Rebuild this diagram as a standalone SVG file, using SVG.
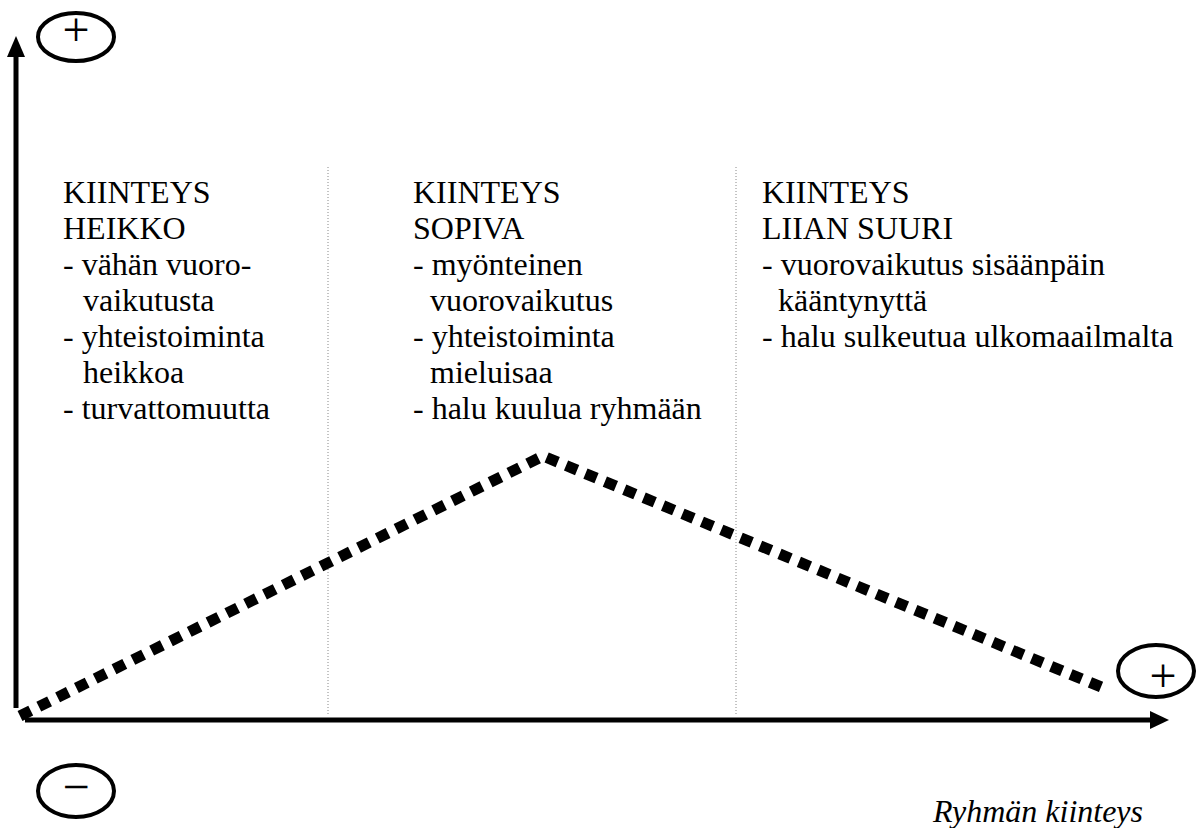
<svg xmlns="http://www.w3.org/2000/svg" width="1200" height="828" viewBox="0 0 1200 828">
<style>
text{font-family:"Liberation Serif","DejaVu Serif",serif}
.t{font-size:32px;fill:#000}
.i{font-style:italic}
.sym{font-size:48px;fill:#000;text-anchor:middle}
.ax{stroke:#000;stroke-width:5;fill:none}
.ell{stroke:#000;stroke-width:4;fill:none}
.sep{stroke:#888;stroke-width:1;stroke-dasharray:1 2;fill:none}
.dot{stroke:#000;stroke-width:11;stroke-dasharray:12 9;fill:none}
</style>
<rect width="1200" height="828" fill="#fff"/>
<g id="connectors">
  <line class="sep" x1="328" y1="167" x2="328" y2="716"/>
  <line class="sep" x1="736" y1="167" x2="736" y2="716"/>
  <line class="ax" x1="16" y1="708" x2="16" y2="54"/>
  <polygon points="16,36 7,57 25,57" fill="#000"/>
  <line class="ax" x1="25" y1="720" x2="1152" y2="720"/>
  <polygon points="1169,720 1150,711 1150,729" fill="#000"/>
  <polyline class="dot" points="20,716 543,456 1106,689"/>
</g>
<g id="plus-top">
  <ellipse class="ell" cx="76" cy="37" rx="38" ry="24"/>
  <text class="sym" x="76" y="46">+</text>
</g>
<g id="minus-bottom">
  <ellipse class="ell" cx="76" cy="791" rx="38" ry="26"/>
  <text class="sym" x="76" y="803">−</text>
</g>
<g id="plus-right">
  <ellipse class="ell" cx="1156" cy="671" rx="38" ry="26"/>
  <text class="sym" x="1163" y="692">+</text>
</g>
<g id="col-weak">
  <text class="t" x="63" y="203">KIINTEYS</text>
  <text class="t" x="63" y="239">HEIKKO</text>
  <text class="t" x="63" y="275">- vähän vuoro-</text>
  <text class="t" x="83" y="311">vaikutusta</text>
  <text class="t" x="63" y="347">- yhteistoiminta</text>
  <text class="t" x="83" y="383">heikkoa</text>
  <text class="t" x="63" y="419">- turvattomuutta</text>
</g>
<g id="col-good">
  <text class="t" x="413" y="203">KIINTEYS</text>
  <text class="t" x="413" y="239">SOPIVA</text>
  <text class="t" x="413" y="275">- myönteinen</text>
  <text class="t" x="430" y="311">vuorovaikutus</text>
  <text class="t" x="413" y="347">- yhteistoiminta</text>
  <text class="t" x="430" y="383">mieluisaa</text>
  <text class="t" x="413" y="419">- halu kuulua ryhmään</text>
</g>
<g id="col-strong">
  <text class="t" x="762" y="203">KIINTEYS</text>
  <text class="t" x="762" y="239">LIIAN SUURI</text>
  <text class="t" x="762" y="275">- vuorovaikutus sisäänpäin</text>
  <text class="t" x="778" y="311">kääntynyttä</text>
  <text class="t" x="762" y="347">- halu sulkeutua ulkomaailmalta</text>
</g>
<g id="axis-label">
  <text class="t i" x="933" y="822">Ryhmän kiinteys</text>
</g>
</svg>
